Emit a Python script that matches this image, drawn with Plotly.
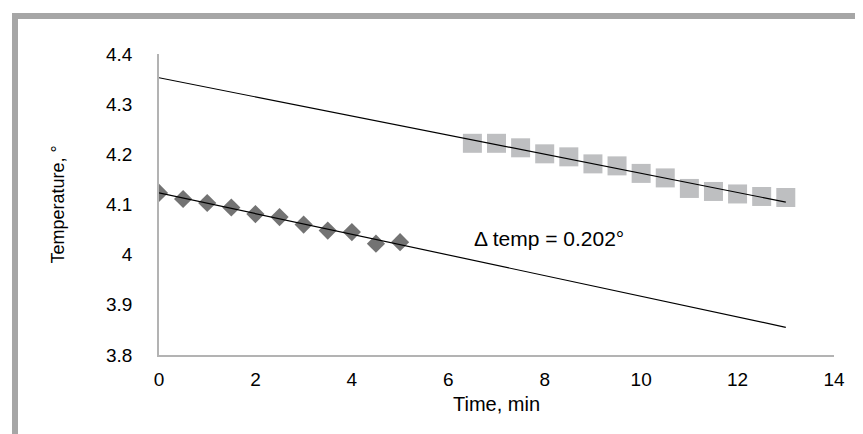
import numpy as np
import plotly.graph_objects as go

# Series 1 (diamonds)
time_a = [0, 0.5, 1, 1.5, 2, 2.5, 3, 3.5, 4, 4.5, 5]
temp_a = [4.123, 4.111, 4.103, 4.094, 4.081, 4.075, 4.060, 4.048, 4.045, 4.022, 4.025]

# Series 2 (squares)
time_b = [6.5, 7, 7.5, 8, 8.5, 9, 9.5, 10, 10.5, 11, 11.5, 12, 12.5, 13]
temp_b = [4.222, 4.222, 4.213, 4.201, 4.195, 4.181, 4.177, 4.162, 4.153, 4.132, 4.126, 4.121, 4.116, 4.114]

x_ticks = [0, 2, 4, 6, 8, 10, 12, 14]
y_ticks = [3.8, 3.9, 4.0, 4.1, 4.2, 4.3, 4.4]
y_tick_text = ["3.8", "3.9", "4", "4.1", "4.2", "4.3", "4.4"]
trend_span = [0, 13]
annotation_text = "Δ temp = 0.202°"

# linear fits
ka, ba = np.polyfit(time_a, temp_a, 1)
kb, bb = np.polyfit(time_b, temp_b, 1)
span = np.array(trend_span, dtype=float)

FONT = "Liberation Sans, Arial, sans-serif"

fig = go.Figure()
fig.add_trace(go.Scatter(x=time_a, y=temp_a, mode="markers",
                         marker=dict(symbol="diamond", size=14, color="#737373", line=dict(width=0)),
                         showlegend=False))
fig.add_trace(go.Scatter(x=time_b, y=temp_b, mode="markers",
                         marker=dict(symbol="square", size=19, color="#bebfc1", line=dict(width=0)),
                         showlegend=False))
fig.add_trace(go.Scatter(x=span, y=kb * span + bb, mode="lines",
                         line=dict(color="#000000", width=1.2), showlegend=False, hoverinfo="skip"))
fig.add_trace(go.Scatter(x=span, y=ka * span + ba, mode="lines",
                         line=dict(color="#000000", width=1.2), showlegend=False, hoverinfo="skip"))

L, R, T, B = 151, 37, 46, 87
W, H = 863, 434
pw, ph = W - L - R, H - T - B
def px(X):
    return (X - L) / pw
def py(Y):
    return (H - B - Y) / ph

shapes = [
    dict(type="rect", xref="paper", yref="paper", x0=px(4), x1=px(863), y0=py(11), y1=py(5),
         fillcolor="#a6a6a6", line=dict(width=0), layer="below"),
    dict(type="rect", xref="paper", yref="paper", x0=px(4), x1=px(10), y0=py(433), y1=py(5),
         fillcolor="#a6a6a6", line=dict(width=0), layer="below"),
    dict(type="rect", xref="paper", yref="paper", x0=px(4), x1=px(863), y0=py(434), y1=py(431.5),
         fillcolor="#e0e0e0", line=dict(width=0), layer="below"),
]

fig.update_layout(
    width=W, height=H,
    margin=dict(l=L, r=R, t=T, b=B),
    paper_bgcolor="white", plot_bgcolor="white",
    font=dict(family=FONT, size=19, color="#000000"),
    shapes=shapes,
    xaxis=dict(range=[0, 14], tickvals=x_ticks, showgrid=False, zeroline=False,
               showline=True, linecolor="#b3b3b3", linewidth=1.5, ticks="",
               tickfont=dict(size=19), ticklabelstandoff=6,
               title=dict(text="Time, min", font=dict(size=20), standoff=8)),
    yaxis=dict(range=[3.8, 4.4], tickvals=y_ticks, ticktext=y_tick_text, showgrid=False,
               zeroline=False, showline=True, linecolor="#b3b3b3", linewidth=1.5, ticks="",
               tickfont=dict(size=19), ticklabelstandoff=21,
               title=dict(text="Temperature, °", font=dict(size=18), standoff=37)),
    annotations=[dict(x=6.5, y=4.033, xref="x", yref="y", text=annotation_text,
                      showarrow=False, xanchor="left", yanchor="middle",
                      font=dict(size=21, family=FONT))],
)

fig.write_html("out.html")
